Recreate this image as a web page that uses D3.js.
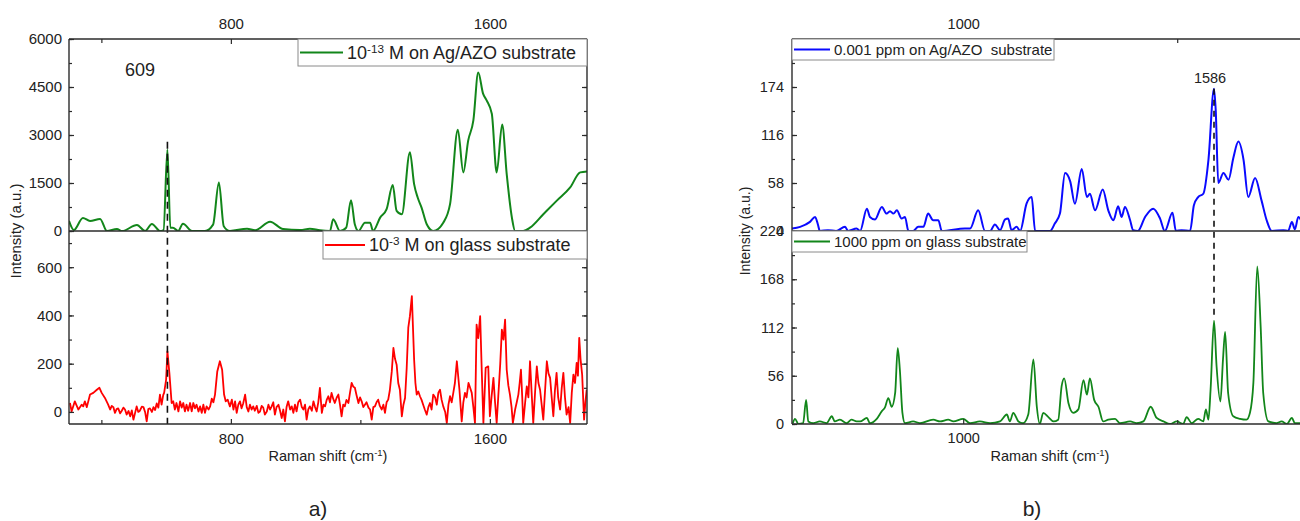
<!DOCTYPE html>
<html><head><meta charset="utf-8">
<script src="https://cdn.jsdelivr.net/npm/d3@7"></script>
<style>
html,body{margin:0;padding:0;background:#fff;}
svg{display:block;font-family:"Liberation Sans",Arial,sans-serif;}
text{fill:#222;}
</style></head>
<body>
<svg id="chart" width="1300" height="521"></svg>
<script>
// ---------- DATA ----------
// Panel a) ticks
const ticksAx = [800, 1600];
const ticksAyTop = [0, 1500, 3000, 4500, 6000];
const ticksAyBot = [0, 200, 400, 600];
// Panel b) ticks
const ticksBx = [1000];
const ticksByTop = [0, 58, 116, 174];
const ticksByBot = [0, 56, 112, 168, 224];

// 10^-13 M on Ag/AZO substrate  [Raman shift, intensity]
const greenA = [[300,314],[315,30],[343,408],[365,314],[396,377],[417,0],[448,63],[464,0],[510,188],[535,0],[556,220],[581,0],[592,30],[604,2550],[613,100],[621,105],[637,0],[652,230],[680,0],[720,0],[745,200],[763,1517],[778,150],[797,0],[850,72],[875,20],[921,292],[961,60],[1014,30],[1044,72],[1075,20],[1106,0],[1116,367],[1137,0],[1156,100],[1171,964],[1183,200],[1194,0],[1214,260],[1230,260],[1239,0],[1261,418],[1281,681],[1300,1435],[1312,628],[1328,524],[1353,2460],[1366,1466],[1377,1046],[1389,732],[1405,210],[1425,0],[1456,260],[1477,838],[1501,3162],[1518,1831],[1533,2826],[1549,3454],[1564,4950],[1579,4292],[1590,4082],[1606,3664],[1621,1831],[1638,3328],[1652,1780],[1668,418],[1678,0],[1703,0],[1724,104],[1765,524],[1806,942],[1848,1360],[1879,1831],[1900,1862]];

// 10^-3 M on glass substrate
const redA = [[303,37],[308,2],[318,44],[329,10],[339,30],[344,23],[349,44],[355,20],[365,72],[375,79],[386,92],[394,100],[401,79],[411,58],[421,30],[427,10],[432,25],[437,20],[442,-4],[447,12],[452,15],[458,-6],[463,5],[468,18],[473,10],[478,-11],[484,4],[489,-18],[494,6],[499,-32],[504,-5],[509,23],[514,0],[519,5],[525,22],[530,20],[535,0],[540,-39],[545,12],[550,15],[556,0],[561,20],[566,8],[571,35],[576,18],[581,72],[586,30],[591,70],[594,80],[600,134],[604,251],[610,162],[617,37],[622,44],[627,10],[632,37],[638,2],[643,44],[648,18],[653,37],[658,2],[663,30],[668,5],[674,37],[679,2],[684,37],[689,15],[694,30],[700,2],[705,23],[710,-4],[715,30],[720,-4],[725,23],[731,10],[736,23],[741,55],[746,40],[751,72],[758,168],[766,210],[773,175],[779,72],[784,44],[790,51],[797,23],[803,51],[808,10],[813,44],[818,-4],[823,30],[828,44],[833,15],[838,35],[844,72],[849,20],[854,2],[859,30],[864,10],[869,23],[874,5],[880,25],[885,-4],[890,2],[895,25],[900,18],[905,-11],[911,2],[916,30],[921,10],[926,23],[931,40],[936,-11],[941,20],[947,30],[952,5],[957,-25],[962,10],[967,-39],[972,20],[977,44],[983,10],[988,23],[993,-4],[998,30],[1003,2],[1008,40],[1014,51],[1019,20],[1024,10],[1029,30],[1034,-32],[1039,10],[1044,23],[1050,5],[1055,44],[1060,20],[1065,2],[1070,40],[1075,100],[1081,-4],[1086,30],[1091,23],[1096,50],[1101,65],[1106,40],[1111,79],[1116,55],[1121,37],[1127,60],[1132,72],[1137,30],[1142,-18],[1147,30],[1152,23],[1157,50],[1163,37],[1168,80],[1173,120],[1178,105],[1183,100],[1188,70],[1194,37],[1199,60],[1204,44],[1209,20],[1214,30],[1219,40],[1225,18],[1230,10],[1235,-32],[1240,20],[1245,23],[1250,40],[1255,51],[1260,25],[1266,10],[1271,30],[1276,-4],[1281,40],[1286,51],[1291,90],[1297,168],[1302,265],[1307,220],[1312,196],[1317,120],[1322,92],[1328,-18],[1333,30],[1338,58],[1343,180],[1348,349],[1353,397],[1359,480],[1366,217],[1370,120],[1374,72],[1379,85],[1384,65],[1389,50],[1394,30],[1399,10],[1405,-11],[1410,20],[1415,37],[1420,10],[1425,72],[1431,60],[1436,30],[1441,80],[1446,92],[1451,50],[1456,23],[1462,0],[1467,-46],[1472,30],[1477,65],[1482,40],[1487,79],[1492,120],[1498,210],[1502,150],[1506,92],[1513,-39],[1518,40],[1523,79],[1528,60],[1534,120],[1539,100],[1544,79],[1549,20],[1554,-46],[1559,362],[1564,306],[1570,397],[1575,168],[1580,-46],[1587,183],[1595,189],[1600,-18],[1605,60],[1611,141],[1616,40],[1621,-46],[1626,65],[1632,200],[1637,341],[1642,300],[1647,383],[1652,175],[1657,110],[1662,72],[1667,20],[1671,-46],[1678,10],[1683,40],[1688,72],[1692,120],[1696,175],[1700,60],[1703,-46],[1709,40],[1714,106],[1719,60],[1724,210],[1729,80],[1734,-46],[1740,90],[1745,189],[1750,120],[1755,92],[1760,30],[1765,-32],[1771,100],[1776,210],[1781,160],[1786,141],[1791,60],[1796,-18],[1801,90],[1806,162],[1811,60],[1817,10],[1822,100],[1827,162],[1832,60],[1837,-11],[1843,20],[1848,-46],[1853,80],[1858,155],[1863,120],[1868,203],[1872,150],[1876,307],[1880,220],[1885,155],[1891,-32],[1895,40],[1899,92]];

// 0.001 ppm on Ag/AZO substrate
const blueB = [[600,3],[619,5],[642,11],[654,17],[661,7],[665,0],[684,1],[703,0],[724,5],[731,0],[751,3],[759,0],[775,27],[782,17],[794,14],[810,29],[821,21],[829,24],[837,21],[845,25],[856,15],[864,17],[872,0],[883,0],[895,5],[907,5],[918,21],[930,13],[942,13],[950,0],[1004,3],[1016,3],[1035,25],[1051,0],[1063,0],[1074,8],[1086,1],[1098,14],[1105,15],[1113,1],[1125,5],[1133,0],[1148,33],[1160,41],[1168,0],[1203,0],[1214,9],[1226,21],[1238,70],[1250,60],[1261,33],[1277,75],[1289,41],[1296,45],[1308,25],[1326,50],[1339,25],[1351,13],[1362,30],[1370,17],[1378,29],[1390,13],[1397,1],[1408,0],[1425,17],[1444,27],[1460,15],[1471,0],[1489,22],[1497,0],[1510,1],[1530,0],[1539,31],[1549,41],[1561,45],[1573,86],[1586,172],[1590,146],[1596,58],[1608,70],[1620,62],[1631,88],[1643,108],[1655,86],[1666,41],[1682,64],[1697,37],[1709,13],[1721,0],[1748,1],[1759,0],[1768,11],[1775,2],[1783,17],[1792,10]];

// 1000 ppm on glass substrate
const greenB = [[602,1],[607,6],[615,0],[626,1],[633,28],[638,3],[650,1],[665,3],[681,1],[693,9],[700,3],[712,5],[728,1],[739,5],[751,3],[759,3],[775,7],[782,1],[798,6],[810,15],[817,19],[825,30],[833,20],[841,36],[847,88],[852,63],[858,13],[864,1],[883,3],[899,1],[930,5],[946,3],[965,5],[977,3],[1000,6],[1016,1],[1039,3],[1063,1],[1086,3],[1102,11],[1109,3],[1117,13],[1129,3],[1140,1],[1152,11],[1164,75],[1172,20],[1179,0],[1187,13],[1199,8],[1211,3],[1222,5],[1230,44],[1236,53],[1246,24],[1257,13],[1269,17],[1281,51],[1289,34],[1296,53],[1306,28],[1316,20],[1327,3],[1339,5],[1355,6],[1366,1],[1390,3],[1405,1],[1421,3],[1438,20],[1452,7],[1468,3],[1483,0],[1499,3],[1514,0],[1522,8],[1534,1],[1549,6],[1561,3],[1567,17],[1573,5],[1578,40],[1586,120],[1592,67],[1601,26],[1607,75],[1612,107],[1619,36],[1631,9],[1647,6],[1662,5],[1670,13],[1678,48],[1687,183],[1695,113],[1701,36],[1713,3],[1732,1],[1744,3],[1756,0],[1768,7],[1775,1],[1787,1],[1799,3]];

// annotations: [shift, intensity top (upper plot), intensity bottom (lower plot)]
const dashA = [604, 2790, -50];
const dashB = [1586, 172, 121];

// ---------- DRAW ----------
const svg = d3.select("#chart");
const AX = "#2b2b2b";

const xA = d3.scaleLinear().domain([300, 1900]).range([69, 587]);
const yA1 = d3.scaleLinear().domain([0, 6000]).range([231, 39]);
const yA2 = d3.scaleLinear().domain([-50, 750]).range([424, 231]);
const xB = d3.scaleLinear().domain([600, 1800]).range([792, 1305.6]);
const yB1 = d3.scaleLinear().domain([0, 232]).range([231, 39]);
const yB2 = d3.scaleLinear().domain([0, 224]).range([424, 231]);

const defs = svg.append("defs");
function clip(id, x0, x1, y0, y1) {
  defs.append("clipPath").attr("id", id).append("rect")
    .attr("x", x0).attr("y", y0).attr("width", x1 - x0).attr("height", y1 - y0);
  return "url(#" + id + ")";
}

function styleAxis(g, fs) {
  g.select(".domain").remove();
  g.selectAll("line").attr("stroke", AX).attr("stroke-width", 1.2);
  g.selectAll("text").attr("font-size", fs).attr("fill", "#222")
    .attr("font-family", '"Liberation Sans", Arial, sans-serif');
}

function yAxes(y, x0, x1, major, minorStep, fs, pad, showLabels) {
  const d = y.domain();
  const minor = d3.range(Math.ceil(d[0] / minorStep) * minorStep, d[1] + 1e-9, minorStep);
  let g = svg.append("g").attr("transform", `translate(${x0},0)`)
    .call(d3.axisLeft(y).tickValues(minor).tickSize(-3).tickFormat(""));
  styleAxis(g, fs);
  g = svg.append("g").attr("transform", `translate(${x0},0)`)
    .call(d3.axisLeft(y).tickValues(major).tickSize(-5).tickPadding(pad)
      .tickFormat(showLabels ? d3.format("d") : ""));
  styleAxis(g, fs);
  if (x1 !== null) {
    g = svg.append("g").attr("transform", `translate(${x1},0)`)
      .call(d3.axisRight(y).tickValues(minor).tickSize(-3).tickFormat(""));
    styleAxis(g, fs);
    g = svg.append("g").attr("transform", `translate(${x1},0)`)
      .call(d3.axisRight(y).tickValues(major).tickSize(-5).tickFormat(""));
    styleAxis(g, fs);
  }
}

function xAxes(x, yTop, yBot, major, minorStep, fs, padTop, padBot) {
  const d = x.domain();
  const minor = d3.range(Math.ceil(d[0] / minorStep) * minorStep, d[1] + 1e-9, minorStep)
    .filter(v => major.indexOf(v) < 0);
  [[yTop, d3.axisTop, padTop], [yBot, d3.axisBottom, padBot]].forEach(([yy, ax, pad]) => {
    let g = svg.append("g").attr("transform", `translate(0,${yy})`)
      .call(ax(x).tickValues(minor).tickSize(-4).tickFormat(""));
    styleAxis(g, fs);
    g = svg.append("g").attr("transform", `translate(0,${yy})`)
      .call(ax(x).tickValues(major).tickSize(-5).tickPadding(pad).tickFormat(d3.format("d")));
    styleAxis(g, fs);
  });
}

function frameLine(x1, y1, x2, y2) {
  svg.append("line").attr("x1", x1).attr("y1", y1).attr("x2", x2).attr("y2", y2)
    .attr("stroke", AX).attr("stroke-width", 1.4);
}

function series(data, x, y, color, width, clipUrl, curve) {
  const line = d3.line().x(d => x(d[0])).y(d => y(d[1]));
  if (curve) line.curve(curve);
  svg.append("path").datum(data).attr("d", line).attr("fill", "none")
    .attr("stroke", color).attr("stroke-width", width)
    .attr("stroke-linejoin", "round").attr("clip-path", clipUrl);
}

function legend(x0, y0, w, h, color, lineLen, fs, parts) {
  svg.append("rect").attr("x", x0).attr("y", y0).attr("width", w).attr("height", h)
    .attr("fill", "#fff").attr("stroke", "#8a8a8a").attr("stroke-width", 1);
  svg.append("line").attr("x1", x0 + 2).attr("x2", x0 + 2 + lineLen)
    .attr("y1", y0 + h / 2).attr("y2", y0 + h / 2)
    .attr("stroke", color).attr("stroke-width", 2);
  const t = svg.append("text").attr("x", x0 + lineLen + 6).attr("y", y0 + h / 2)
    .attr("dy", "0.36em").attr("font-size", fs).style("white-space", "pre");
  parts.forEach(p => {
    if (p.sup) t.append("tspan").attr("baseline-shift", "super").attr("font-size", fs * 0.65).text(p.t);
    else t.append("tspan").text(p.t);
  });
}

// ----- Panel a -----
const cA1 = clip("cA1", 69, 587, 39, 231);
const cA2 = clip("cA2", 69, 587, 231, 424);
series(greenA, xA, yA1, "#12861a", 2, cA1, d3.curveMonotoneX);
series(redA, xA, yA2, "#ff0000", 1.8, cA2, null);

svg.append("line").attr("x1", xA(dashA[0])).attr("x2", xA(dashA[0]))
  .attr("y1", yA1(dashA[1])).attr("y2", yA2(dashA[2]))
  .attr("stroke", "#111").attr("stroke-width", 1.6).attr("stroke-dasharray", "7,5");

frameLine(69, 39, 587, 39); frameLine(69, 424, 587, 424);
frameLine(69, 39, 69, 424); frameLine(587, 39, 587, 424);
frameLine(69, 231, 587, 231);
yAxes(yA1, 69, 587, ticksAyTop, 750, 15, 7, true);
yAxes(yA2, 69, 587, ticksAyBot, 100, 15, 7, true);
xAxes(xA, 39, 424, ticksAx, 400, 15, 10, 9);

legend(298, 39, 289, 27, "#12861a", 43, 18, [{t: "10"}, {t: "-13", sup: true}, {t: " M on Ag/AZO substrate"}]);
legend(323, 231, 264, 28, "#ff0000", 40, 18, [{t: "10"}, {t: "-3", sup: true}, {t: " M on glass substrate"}]);

svg.append("text").attr("x", 140).attr("y", 76).attr("text-anchor", "middle")
  .attr("font-size", 18).text("609");

svg.append("text").attr("transform", "translate(21,231) rotate(-90)")
  .attr("text-anchor", "middle").attr("font-size", 15).text("Intensity (a.u.)");
const tA = svg.append("text").attr("x", 328).attr("y", 461).attr("text-anchor", "middle")
  .attr("font-size", 14.5);
tA.append("tspan").text("Raman shift (cm");
tA.append("tspan").attr("baseline-shift", "super").attr("font-size", 9.5).text("-1");
tA.append("tspan").text(")");

svg.append("text").attr("x", 318).attr("y", 516).attr("text-anchor", "middle")
  .attr("font-size", 21).text("a)");

// ----- Panel b -----
const cB1 = clip("cB1", 792, 1306, 39, 231);
const cB2 = clip("cB2", 792, 1306, 231, 424);
series(blueB, xB, yB1, "#0a0aff", 2, cB1, d3.curveMonotoneX);
series(greenB, xB, yB2, "#12861a", 1.8, cB2, d3.curveMonotoneX);

svg.append("line").attr("x1", xB(dashB[0])).attr("x2", xB(dashB[0]))
  .attr("y1", yB1(dashB[1])).attr("y2", yB2(dashB[2]))
  .attr("stroke", "#111").attr("stroke-width", 1.6).attr("stroke-dasharray", "6,5");

frameLine(792, 39, 1306, 39); frameLine(792, 424, 1306, 424);
frameLine(792, 39, 792, 424); frameLine(792, 231, 1306, 231);
yAxes(yB1, 792, null, ticksByTop, 29, 14.5, 8, true);
yAxes(yB2, 792, null, ticksByBot, 28, 14.5, 8, true);
xAxes(xB, 39, 424, ticksBx, 500, 14.5, 10, 9);

legend(792, 39, 262, 21, "#0a0aff", 36, 15, [{t: "0.001 ppm on Ag/AZO  substrate"}]);
legend(792, 231, 235, 21, "#12861a", 36, 15, [{t: "1000 ppm on glass substrate"}]);

svg.append("text").attr("x", xB(dashB[0]) - 4).attr("y", 83).attr("text-anchor", "middle")
  .attr("font-size", 14.5).text("1586");

svg.append("text").attr("transform", "translate(750,231) rotate(-90)")
  .attr("text-anchor", "middle").attr("font-size", 14).text("Intensity (a.u.)");
const tB = svg.append("text").attr("x", 1050).attr("y", 461).attr("text-anchor", "middle")
  .attr("font-size", 14.5);
tB.append("tspan").text("Raman shift (cm");
tB.append("tspan").attr("baseline-shift", "super").attr("font-size", 9.5).text("-1");
tB.append("tspan").text(")");

svg.append("text").attr("x", 1032).attr("y", 516).attr("text-anchor", "middle")
  .attr("font-size", 21).text("b)");
</script>
</body></html>
